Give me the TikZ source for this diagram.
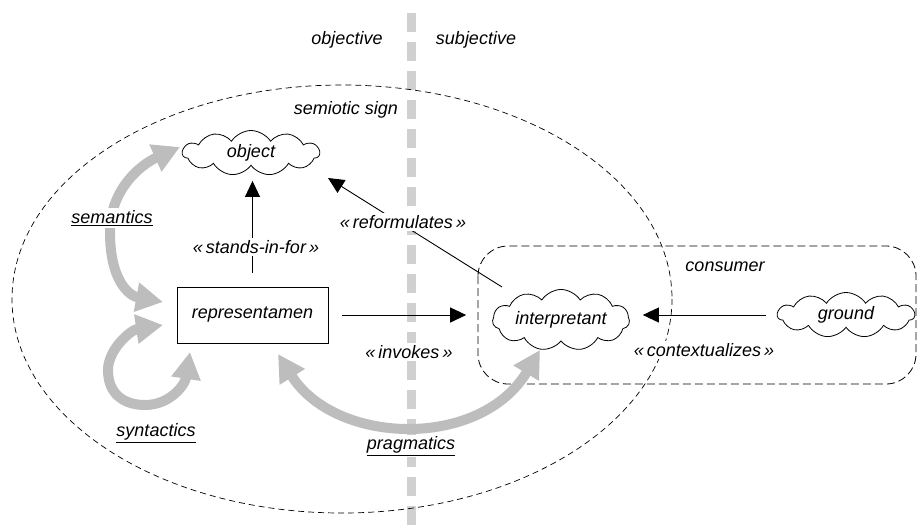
\documentclass[tikz,border=0pt]{standalone}
\usepackage{fontspec}
\setmainfont{Liberation Sans}
\usetikzlibrary{shapes.symbols,arrows.meta}
\definecolor{fatgray}{HTML}{BDBDBD}
\definecolor{divgray}{HTML}{D0D0D0}
\begin{document}
\begin{tikzpicture}[x=1pt,y=-1pt,
  every node/.style={font=\fontsize{18}{20}\selectfont\itshape},
  lbl/.style={fill=white, inner sep=2pt},
  conn/.style={line width=0.9pt, -{Triangle[length=16pt,width=15pt]}},
  fat/.style={draw=fatgray, line width=10pt,
    {Triangle[length=27pt,width=28pt]}-{Triangle[length=27pt,width=28pt]}},
  puff/.style={cloud, draw, cloud puffs=11, cloud puff arc=115, aspect=3,
    minimum width=137pt, minimum height=45pt, inner sep=0pt, line width=0.8pt},
  frame/.style={draw, line width=0.9pt, minimum width=151pt, minimum height=56pt},
  signline/.style={line width=0.7pt, dash pattern=on 6pt off 4pt},
  groupline/.style={line width=0.8pt, dash pattern=on 8pt off 4pt}]
\useasboundingbox (0,0) rectangle (920,527);

% objective / subjective divider
\draw[divgray, line width=9pt, dash pattern=on 19pt off 10pt] (411,13) -- (411,527);
\node (objl) at (347,40) {objective};
\node (subjl) at (476,40) {subjective};

% semiotic sign and consumer regions
\draw[signline] (342,299) ellipse [x radius=330, y radius=214];
\node (signl) at (346,110) {semiotic sign};
\draw[groupline, rounded corners=30pt] (478,246) rectangle (916,384);
\node (consl) at (725,267) {consumer};

% elements
\node[puff] (object) at (251,153) {object};
\node[frame] (repr) at (252.5,315) {representamen};
\node[puff] (interp) at (561,320) {interpretant};
\node[puff] (ground) at (846,315) {ground};

% relations
\draw[conn, shorten <=14pt, shorten >=15pt] (repr.north) -- (repr.north |- object.south);
\node[lbl] (standsl) at (256,247) {«\,stands-in-for\,»};

\draw[conn, shorten <=14pt, shorten >=26pt] (repr.east) -- (interp.west |- repr.east);
\node[lbl] (invokesl) at (409,352) {«\,invokes\,»};

\coordinate (rfA) at (502,287);
\coordinate (rfB) at (328,178);
\draw[conn] (rfA) -- (rfB);
\node[lbl] (reforml) at (403,222) {«\,reformulates\,»};

\draw[conn, shorten <=11pt, shorten >=13pt] (ground.west) -- (interp.east |- ground.west);
\node[lbl] (contextl) at (704,350) {«\,contextualizes\,»};

% semantics, syntactics, pragmatics
\coordinate (semA) at (180,147);
\coordinate (semB) at (163,302);
\draw[fat] (semA) .. controls (140,165) and (110,190) .. (110,232)
  .. controls (110,282) and (130,296) .. (semB);
\node[lbl] (seml) at (112,218) {\underline{semantics}};

\coordinate (synA) at (163,325);
\coordinate (synB) at (190,352);
\draw[fat] (synA) .. controls (130,330) and (108,350) .. (108,370)
  .. controls (108,395) and (125,405) .. (145,405)
  .. controls (170,405) and (185,385) .. (synB);
\node (synl) at (156,433) {\underline{syntactics}};

\coordinate (prA) at (278,354);
\coordinate (prB) at (540,350);
\draw[fat] (prA) .. controls (335,445) and (480,450) .. (prB);
\node[lbl] (pragl) at (411,446) {\underline{pragmatics}};
\end{tikzpicture}
\end{document}
